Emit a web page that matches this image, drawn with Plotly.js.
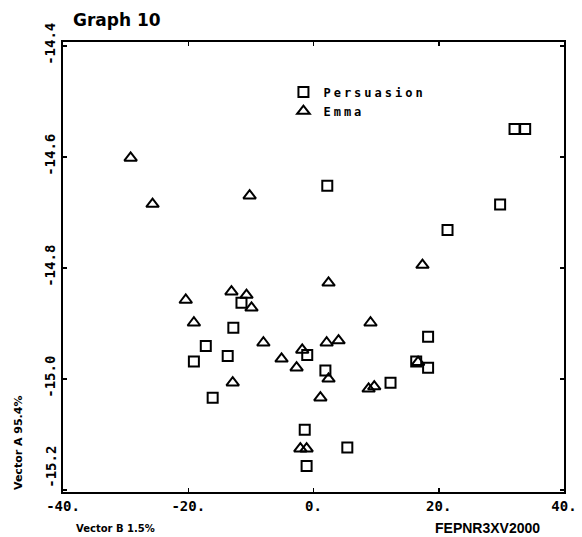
<!DOCTYPE html>
<html>
<head>
<meta charset="utf-8">
<script src="https://cdn.plot.ly/plotly-3.0.1.min.js"></script>
<style>
  html, body { margin: 0; padding: 0; background: #fff; }
  #chart { width: 582px; height: 537px; }
  .legendtext { letter-spacing: 3px; }
</style>
</head>
<body>
<div id="chart"></div>
<script>
// Persuasion (squares)
const persuasionX = [32.1, 33.8, 29.8, 21.4, 2.2, -11.5, -12.8, -17.2, -19.1, -13.7, -16.1, -1.0, 1.9, -1.4, -1.1, 5.4, 12.3, 18.3, 16.4, 18.3];
const persuasionY = [-14.55, -14.55, -14.686, -14.732, -14.652, -14.863, -14.908, -14.941, -14.969, -14.959, -15.034, -14.957, -14.985, -15.092, -15.157, -15.124, -15.007, -14.924, -14.969, -14.98];

// Emma (triangles)
const emmaX = [-29.2, -25.7, -10.2, -20.4, -19.1, -13.1, -10.7, -9.9, 2.4, 9.1, -8.0, -12.9, -5.1, -2.7, -1.8, 2.1, 4.0, 2.4, 1.1, -2.1, -1.1, 8.8, 9.7, 17.4, 16.7];
const emmaY = [-14.602, -14.685, -14.670, -14.858, -14.899, -14.843, -14.849, -14.872, -14.827, -14.899, -14.935, -15.007, -14.964, -14.98, -14.948, -14.935, -14.931, -15.0, -15.034, -15.126, -15.126, -15.018, -15.014, -14.795, -14.97];

const xTickVals = [-40, -20, 0, 20, 40];
const xTickText = ["-40.", "-20.", "0.", "20.", "40."];
const yTickVals = [-15.2, -15.0, -14.8, -14.6, -14.4];
const yTickText = ["", "-15.0", "-14.8", "-14.6", "-14.4"];

const tickFont = { family: "DejaVu Sans Mono", size: 14, color: "#000", weight: "bold" };

const traces = [
  {
    x: persuasionX, y: persuasionY, name: "Persuasion", type: "scatter", mode: "markers",
    marker: { symbol: "square-open", size: 10, color: "#000", line: { width: 2, color: "#000" } }
  },
  {
    x: emmaX, y: emmaY, name: "Emma", type: "scatter", mode: "markers",
    marker: { symbol: "triangle-up-open", size: 11, color: "#000", line: { width: 2, color: "#000" } }
  }
];

const layout = {
  width: 582, height: 537,
  margin: { l: 63, r: 18, t: 42, b: 45 },
  paper_bgcolor: "#fff", plot_bgcolor: "#fff",
  showlegend: true,
  legend: {
    x: 0.44, y: 0.921, xanchor: "left", yanchor: "top",
    bgcolor: "rgba(0,0,0,0)", borderwidth: 0,
    font: { family: "DejaVu Sans Mono", size: 12, color: "#000", weight: "bold" },
    itemwidth: 30
  },
  title: {
    text: "Graph 10", xref: "container", yref: "container",
    x: 73 / 582, xanchor: "left", y: 1 - 20 / 537, yanchor: "middle",
    font: { family: "DejaVu Sans", size: 17, color: "#000", weight: "bold" }
  },
  xaxis: {
    range: [-40, 40], tickvals: xTickVals, ticktext: xTickText,
    ticks: "inside", ticklen: 4, tickwidth: 1.5, tickcolor: "#000",
    showline: true, linecolor: "#000", linewidth: 2, mirror: "allticks",
    showgrid: false, zeroline: false, tickfont: tickFont
  },
  yaxis: {
    range: [-15.204, -14.393], tickvals: yTickVals, ticktext: yTickText,
    ticks: "inside", ticklen: 4, tickwidth: 1.5, tickcolor: "#000",
    showline: true, linecolor: "#000", linewidth: 2, mirror: "allticks",
    showgrid: false, zeroline: false, tickfont: tickFont, tickangle: -90
  },
  annotations: [
    { text: "-15.2", xref: "paper", yref: "y", x: 0, y: -15.2, xanchor: "center", yanchor: "bottom",
      xshift: -12, yshift: 0, textangle: -90, showarrow: false, font: tickFont },
    { text: "Vector A 95.4%", xref: "paper", yref: "paper", x: 0, y: 0, xanchor: "center", yanchor: "bottom",
      xshift: -45, yshift: 0, textangle: -90, showarrow: false,
      font: { family: "DejaVu Sans", size: 11, color: "#000", weight: "bold" } },
    { text: "Vector B 1.5%", xref: "paper", yref: "paper", x: 0, y: 0, xanchor: "left", yanchor: "middle",
      xshift: 11, yshift: -36, showarrow: false,
      font: { family: "DejaVu Sans", size: 10, color: "#000", weight: "bold" } },
    { text: "FEPNR3XV2000", xref: "paper", yref: "paper", x: 1, y: 0, xanchor: "right", yanchor: "middle",
      xshift: -22, yshift: -36, showarrow: false,
      font: { family: "Liberation Sans", size: 14, color: "#000", weight: "bold" } }
  ]
};

Plotly.newPlot("chart", traces, layout, { displayModeBar: false, staticPlot: true });
</script>
</body>
</html>
